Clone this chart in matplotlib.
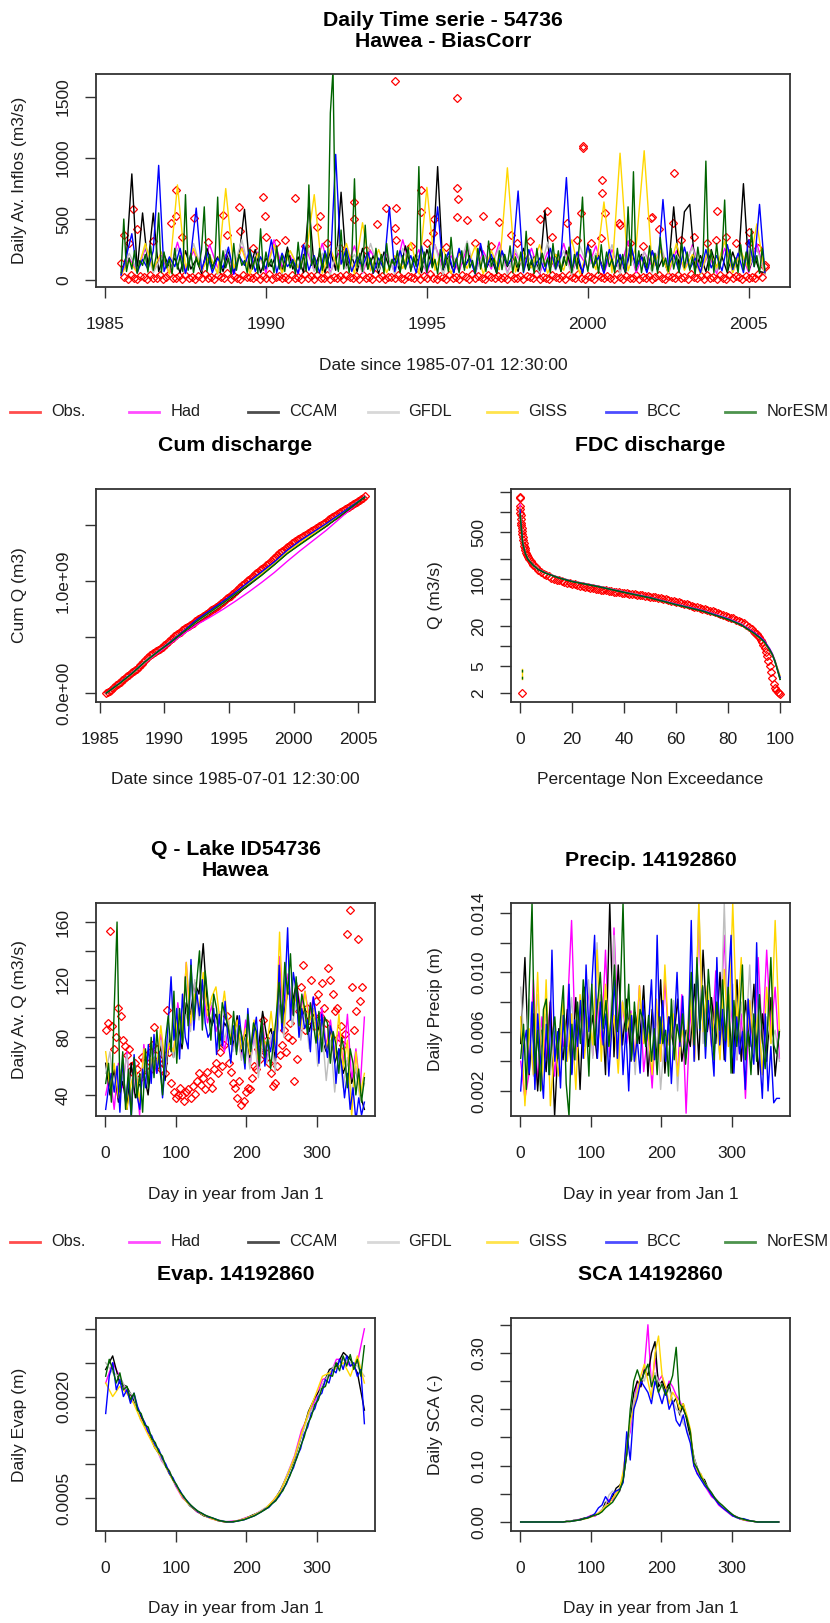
# -*- coding: utf-8 -*-

import numpy as np
import matplotlib
matplotlib.use("Agg")
import matplotlib.pyplot as plt
from matplotlib.lines import Line2D
from matplotlib.ticker import NullLocator

plt.rcParams['font.family'] = ['Liberation Sans', 'DejaVu Sans']

W, H = 830, 1623
BOX = '#333333'
TXT = '#1e1e1e'

names = ["Obs.", "Had", "CCAM", "GFDL", "GISS", "BCC", "NorESM"]
colors = ["red", "magenta", "black", "#BEBEBE", "gold", "blue", "darkgreen"]
legend_colors = ["#FF4D4D", "#FF4DFF", "#4D4D4D", "#D8D8D8", "#FFE34D", "#4D4DFF", "#4D934D"]

"""
Daily inflow series (m3/s) from 1985-07 to 2005-07
Had/GFDL/GISS quarterly, CCAM/BCC every 2 months, NorESM monthly
"""
ts_had = [45, 180, 70, 260, 90, 200, 55, 310, 80, 240,
          60, 290, 100, 210, 45, 270, 85, 230, 60, 330,
          110, 200, 50, 260, 75, 300, 60, 220, 95, 280,
          55, 240, 120, 210, 65, 330, 85, 250, 50, 290,
          100, 200, 70, 270, 55, 240, 90, 310, 60, 220,
          105, 260, 50, 230, 85, 300, 60, 210, 100, 280,
          55, 250, 80, 320, 60, 230, 110, 270, 50, 240,
          90, 290, 70, 210, 55, 260, 100, 230, 60, 300,
          45]
ts_gfdl = [55, 220, 80, 280, 60, 190, 95, 260, 50, 300,
           85, 210, 45, 250, 100, 330, 60, 200, 90, 270,
           50, 240, 110, 310, 70, 220, 45, 280, 95, 210,
           60, 300, 80, 240, 50, 260, 100, 200, 75, 290,
           45, 230, 95, 320, 60, 210, 110, 270, 50, 250,
           90, 200, 60, 310, 80, 240, 45, 280, 100, 220,
           70, 290, 50, 260, 95, 230, 60, 300, 80, 210,
           110, 270, 50, 240, 75, 320, 60, 220, 95, 260,
           50]
ts_giss = [40, 160, 60, 300, 85, 230, 50, 780, 100, 260,
           75, 200, 55, 750, 95, 260, 50, 220, 90, 290,
           60, 240, 100, 210, 700, 55, 260, 85, 300, 50,
           470, 75, 250, 60, 200, 95, 310, 50, 760, 80,
           260, 55, 220, 95, 280, 50, 240, 85, 920, 65,
           230, 100, 290, 55, 210, 80, 330, 50, 250, 85,
           640, 60, 1040, 75, 280, 1060, 95, 240, 55, 300,
           80, 210, 50, 260, 100, 320, 60, 240, 85, 460,
           50]
ts_ccam = [50, 200, 870, 80, 550, 120,
           549, 70, 210, 100, 180, 60,
           240, 90, 170, 55, 260, 110,
           190, 70, 230, 60, 200, 580,
           90, 250, 60, 180, 110, 220,
           70, 270, 90, 190, 60, 620,
           100, 210, 60, 240, 80, 720,
           110, 190, 70, 260, 90, 200,
           55, 230, 100, 180, 70, 280,
           90, 210, 60, 250, 110, 930,
           80, 190, 60, 240, 100, 200,
           70, 270, 90, 180, 55, 230,
           110, 200, 70, 260, 80, 190,
           60, 570, 100, 210, 70, 240,
           90, 180, 55, 290, 110, 200,
           70, 230, 90, 190, 60, 260,
           100, 210, 70, 240, 85, 180,
           60, 600, 110, 560, 620, 90,
           200, 70, 250, 100, 190, 60,
           230, 90, 790, 80, 210, 70,
           60]
ts_bcc = [40, 200, 380, 60, 170, 90,
          240, 940, 70, 190, 110, 260,
          55, 210, 590, 80, 230, 60,
          180, 100, 270, 50, 200, 120,
          250, 70, 190, 90, 330, 60,
          220, 110, 170, 55, 290, 80,
          200, 60, 240, 100, 1030, 130,
          260, 70, 190, 110, 230, 55,
          180, 90, 600, 70, 240, 100,
          200, 60, 280, 80, 190, 600,
          90, 230, 60, 260, 110, 180,
          50, 300, 90, 210, 70, 240,
          120, 190, 730, 60, 250, 100,
          180, 70, 260, 90, 200, 840,
          80, 230, 60, 280, 110, 190,
          55, 250, 90, 210, 70, 300,
          100, 190, 60, 240, 80, 660,
          120, 210, 70, 270, 90, 180,
          60, 250, 100, 200, 75, 290,
          85, 220, 60, 330, 110, 620,
          60]
ts_noresm = [60, 500, 70, 180, 90, 240, 55, 160, 120, 210, 65, 280,
             80, 190, 550, 60, 230, 100, 170, 50, 260, 90, 200, 70,
             700, 80, 220, 60, 190, 110, 250, 600, 70, 210, 90, 170,
             680, 60, 240, 100, 180, 50, 300, 80, 210, 120, 160, 60,
             250, 90, 190, 55, 420, 80, 230, 110, 170, 60, 280, 90,
             200, 70, 240, 100, 160, 50, 310, 90, 210, 70, 780, 120,
             190, 60, 260, 80, 220, 100, 1370, 1720, 180, 70, 410, 90,
             240, 60, 190, 830, 110, 220, 70, 450, 90, 180, 60, 260,
             100, 210, 55, 300, 80, 170, 120, 240, 60, 200, 90, 270,
             70, 190, 110, 930, 80, 230, 60, 280, 100, 170, 50, 250,
             90, 210, 70, 350, 110, 180, 60, 240, 80, 300, 100, 160,
             55, 260, 90, 200, 70, 320, 110, 180, 60, 240, 85, 210,
             120, 280, 60, 190, 100, 230, 70, 400, 90, 170, 55, 260,
             80, 220, 110, 180, 60, 300, 95, 240, 70, 190, 120, 270,
             60, 210, 90, 330, 680, 180, 70, 250, 100, 200, 55, 290,
             85, 230, 110, 170, 60, 260, 90, 210, 70, 600, 120, 888,
             80, 240, 60, 190, 100, 280, 75, 220, 55, 350, 110, 180,
             70, 260, 90, 200, 60, 310, 100, 230, 80, 190, 50, 270,
             110, 220, 975, 80, 240, 60, 300, 90, 200, 656, 70, 250,
             100, 180, 60, 290, 85, 230, 70, 420, 110, 200, 55, 260,
             80]

# observed: low flows every 0.1 yr + the bigger events
obs_low = [140, 25, 12, 40, 18, 8, 35, 22, 10, 45, 20, 15, 38, 9, 28, 50, 14, 20, 33, 11,
           42, 17, 25, 8, 36, 19, 48, 13, 27, 10, 40, 22, 15, 55, 12, 30, 18, 9, 44, 21,
           26, 14, 37, 8, 32, 16, 47, 11, 24, 35, 13, 29, 9, 41, 18, 23, 12, 50, 16, 31,
           10, 38, 20, 14, 45, 9, 27, 17, 34, 12, 43, 21, 15, 30, 8, 39, 19, 25, 11, 46,
           16, 33, 10, 28, 22, 13, 42, 18, 9, 36, 24, 14, 40, 11, 31, 17, 48, 20, 12, 35,
           21, 9, 44, 16, 29, 12, 38, 23, 10, 47, 15, 32, 19, 8, 41, 26, 13, 35, 18, 27,
           11, 45, 20, 14, 37, 9, 30, 24, 16, 52, 12, 28, 19, 10, 43, 22, 15, 34, 8, 39,
           25, 13, 46, 18, 11, 33, 21, 9, 40, 27, 14, 36, 17, 10, 49, 23, 12, 31, 20, 15,
           42, 9, 28, 19, 37, 12, 24, 45, 16, 10, 34, 22, 13, 39, 18, 29, 11, 47, 21, 14,
           32, 10, 41, 17, 26, 12, 38, 20, 9, 44, 15, 30, 23, 11, 36, 18, 27, 13, 48, 25,
           110]
obs_peak_dates = [1985.6, 1985.75, 1985.87, 1986.0, 1986.5, 1987.06, 1987.19, 1987.19, 1987.4,
                  1987.75, 1988.2, 1988.66, 1988.8, 1989.15, 1989.2, 1989.6, 1989.91, 1989.96,
                  1990.0, 1990.3, 1990.6, 1990.9, 1991.2, 1991.6, 1991.68, 1991.9, 1992.3,
                  1992.75, 1992.75, 1993.1, 1993.44, 1993.74, 1994.0, 1994.04, 1994.0, 1994.05,
                  1994.5, 1994.81, 1994.81, 1995.0, 1995.22, 1995.19, 1995.6, 1995.92, 1995.92,
                  1995.96, 1995.92, 1996.25, 1996.5, 1996.74, 1997.0, 1997.23, 1997.61, 1997.8,
                  1998.2, 1998.52, 1998.73, 1998.9, 1999.34, 1999.67, 1999.8, 1999.84, 1999.86,
                  2000.1, 2000.42, 2000.45, 2000.45, 2000.53, 2000.96, 2001.0, 2001.3, 2001.7,
                  2001.95, 2002.0, 2002.2, 2002.64, 2002.69, 2002.9, 2003.3, 2003.7, 2003.99,
                  2004.0, 2004.3, 2004.6, 2005.0, 2005.0, 2005.3, 2005.5]
obs_peak_vals = [370, 300, 580, 420, 320, 470, 739, 525, 350,
                 506, 310, 534, 370, 602, 405, 260, 684, 525,
                 350, 300, 330, 670, 280, 438, 525, 300, 260,
                 638, 500, 250, 457, 591, 1629, 591, 424, 330,
                 280, 739, 558, 300, 500, 383, 270, 1494, 752,
                 662, 514, 492, 300, 525, 280, 479, 369, 300,
                 320, 500, 569, 350, 470, 328, 547, 1095, 1080,
                 300, 342, 821, 717, 547, 465, 450, 300, 280,
                 506, 520, 420, 470, 876, 330, 350, 300, 328,
                 569, 350, 300, 391, 301, 260, 120]

"""
Cumulative discharge (1e9 m3): obs every 1.5 months, models every year
"""
cum_obs = [0.000, 0.008, 0.018, 0.030, 0.045, 0.058, 0.068, 0.079,
           0.090, 0.101, 0.112, 0.125, 0.140, 0.154, 0.165, 0.175,
           0.185, 0.195, 0.205, 0.216, 0.230, 0.246, 0.262, 0.279,
           0.295, 0.310, 0.325, 0.338, 0.350, 0.359, 0.368, 0.378,
           0.388, 0.396, 0.405, 0.414, 0.425, 0.439, 0.452, 0.465,
           0.478, 0.491, 0.505, 0.518, 0.530, 0.539, 0.548, 0.559,
           0.570, 0.581, 0.592, 0.601, 0.610, 0.619, 0.628, 0.639,
           0.650, 0.659, 0.668, 0.679, 0.690, 0.699, 0.708, 0.718,
           0.728, 0.740, 0.752, 0.761, 0.770, 0.780, 0.790, 0.801,
           0.812, 0.823, 0.835, 0.845, 0.855, 0.868, 0.882, 0.896,
           0.910, 0.924, 0.938, 0.949, 0.960, 0.972, 0.985, 0.998,
           1.010, 1.022, 1.035, 1.048, 1.060, 1.071, 1.082, 1.094,
           1.105, 1.116, 1.128, 1.139, 1.150, 1.164, 1.178, 1.192,
           1.205, 1.218, 1.232, 1.246, 1.260, 1.270, 1.280, 1.291,
           1.302, 1.313, 1.325, 1.335, 1.345, 1.355, 1.365, 1.375,
           1.384, 1.393, 1.402, 1.411, 1.420, 1.429, 1.438, 1.447,
           1.456, 1.464, 1.472, 1.481, 1.490, 1.500, 1.510, 1.520,
           1.530, 1.540, 1.550, 1.560, 1.570, 1.579, 1.588, 1.596,
           1.605, 1.613, 1.622, 1.631, 1.640, 1.649, 1.658, 1.668,
           1.678, 1.687, 1.696, 1.705, 1.715, 1.725, 1.735, 1.745,
           1.755]
cum_had = [0, 0.08, 0.17, 0.27, 0.36, 0.445, 0.53, 0.61, 0.675, 0.745, 0.82,
           0.90, 0.985, 1.075, 1.175, 1.27, 1.36, 1.45, 1.55, 1.65, 1.755]
cum_ccam = [0, 0.085, 0.175, 0.28, 0.37, 0.455, 0.545, 0.63, 0.71, 0.79, 0.875,
            0.96, 1.05, 1.145, 1.245, 1.33, 1.41, 1.49, 1.575, 1.66, 1.745]
cum_gfdl = [0, 0.087, 0.18, 0.285, 0.375, 0.462, 0.552, 0.635, 0.715, 0.795, 0.885,
            0.975, 1.065, 1.16, 1.26, 1.345, 1.425, 1.505, 1.585, 1.665, 1.75]
cum_giss = [0, 0.08, 0.172, 0.275, 0.368, 0.458, 0.55, 0.64, 0.72, 0.8, 0.885,
            0.97, 1.06, 1.155, 1.255, 1.34, 1.42, 1.5, 1.585, 1.67, 1.75]
cum_bcc = [0, 0.085, 0.178, 0.28, 0.372, 0.46, 0.555, 0.655, 0.735, 0.815, 0.9,
           0.99, 1.08, 1.17, 1.275, 1.36, 1.435, 1.51, 1.59, 1.67, 1.75]
cum_noresm = [0, 0.083, 0.175, 0.28, 0.37, 0.455, 0.548, 0.64, 0.72, 0.8, 0.885,
              0.965, 1.05, 1.145, 1.245, 1.325, 1.405, 1.485, 1.57, 1.66, 1.75]

"""
Flow duration curves
"""
fdc_head_pct = [0, 0, 0.05, 0.1, 0.15, 0.2, 0.3, 0.4, 0.5, 0.6, 0.7, 0.85,
                1.0, 1.2, 1.4, 1.6, 1.8, 2.0, 2.3, 2.6, 3.0, 3.5, 4.0, 4.5]
fdc_head_q = [1680, 1630, 1250, 1100, 980, 900, 780, 700, 640, 580, 530, 470,
              420, 380, 345, 315, 292, 272, 250, 232, 215, 198, 185, 174]
# 5 % to 90 % in steps of 1 %
fdc_mid_q = [165, 150, 138, 128, 121, 115, 110, 106, 102, 99,
             96, 93, 91, 89, 87, 85, 83.5, 82, 80.5, 79,
             77.5, 76, 74.5, 73, 72, 71, 70, 69, 68, 67,
             66.2, 65.5, 64.7, 64, 63.2, 62.5, 61.7, 61, 60.2, 59.5,
             58.7, 58, 57.2, 56.5, 55.7, 55, 54.2, 53.5, 52.7, 52,
             51, 50, 49, 48, 47, 46, 45, 44, 43, 42,
             41, 40, 39, 38, 37.2, 36.5, 35.7, 35, 34, 33,
             32.2, 31.5, 30.5, 29.5, 28.5, 27.5, 26.7, 26, 25, 24,
             23, 22, 20.8, 19.5, 18, 16.5]
fdc_tail_pct = [90.5, 91, 91.5, 92, 92.5, 93, 93.5, 94, 94.5, 95,
                95.5, 96, 96.5, 97, 97.5, 98, 98.5, 99, 99.5, 100, 0.8]
fdc_tail_q = [15.7, 15, 14.2, 13.5, 12.5, 11.5, 10.5, 9.5, 8.3, 7.2,
              6.0, 5.0, 4.1, 3.3, 2.7, 2.4, 2.2, 2.1, 2.0, 1.95, 2.0]
fdc_pct = [0, 0.2, 0.5, 1, 2, 3, 5, 7, 10, 15, 20, 30, 40, 50, 60, 70, 80, 85, 90, 92, 94, 96, 97, 98, 99, 100]
fdc_had = [1300, 820, 600, 350, 248, 200, 165, 141, 124, 106, 94, 79, 65, 53.5, 42.5, 34.5, 26, 21.5, 16, 14, 12, 9.2, 7.8, 6.2, 4.6, 3.4]
fdc_ccam = [1000, 760, 580, 345, 245, 198, 163, 140, 123, 105, 93, 78, 64, 53, 42, 34, 25.5, 21, 15.5, 13.5, 11.5, 8.7, 7.4, 5.9, 4.4, 3.2]
fdc_gfdl = [1050, 780, 590, 350, 246, 200, 164, 140, 123, 105, 93, 78, 64, 53, 42, 34, 25.5, 21, 15.5, 13.5, 11.5, 8.8, 7.5, 6.0, 4.5, 3.3]
fdc_giss = [1150, 800, 610, 355, 250, 202, 165, 141, 124, 106, 94, 78.5, 64.5, 53, 42, 34, 25.5, 21, 15.5, 13.6, 11.6, 8.9, 7.6, 6.1, 4.7, 3.6]
fdc_bcc = [1100, 770, 590, 348, 244, 199, 163, 140, 123, 105, 93, 78, 64, 53, 42, 34, 25.5, 21, 15.8, 13.8, 11.8, 9.0, 7.6, 6.0, 4.5, 3.4]
fdc_noresm = [950, 740, 570, 340, 242, 197, 162, 139, 122, 104, 92, 77.5, 63.5, 52.5, 41.5, 33.5, 25, 20.8, 15.5, 13.5, 11.5, 8.8, 7.5, 6.0, 4.4, 3.2]
fdc_stub_pct = [0.65, 0.65]
fdc_stub_q = [3.2, 4.6]

"""
Day-of-year Q (m3/s): obs every 3 days, models every 6 days (BCC, NorESM every 4)
"""
q_obs = [85, 90, 154, 88, 72, 80, 100, 95, 78, 74,
         68, 72, 60, 55, 62, 58, 52, 66, 64, 60,
         56, 70, 75, 87, 72, 65, 58, 62, 55, 99,
         70, 48, 42, 38, 40, 45, 40, 36, 42, 44,
         38, 46, 41, 50, 55, 47, 52, 44, 56, 50,
         45, 58, 62, 55, 70, 60, 75, 95, 62, 56,
         48, 45, 38, 50, 33, 36, 42, 45, 44, 52,
         60, 58, 72, 65, 92, 70, 78, 62, 55, 46,
         48, 60, 68, 75, 85, 70, 80, 90, 78, 50,
         65, 98, 115, 130, 85, 100, 92, 120, 88, 105,
         110, 95, 118, 100, 90, 128, 120, 110, 98, 100,
         80, 88, 75, 82, 152, 168, 115, 85, 98, 148,
         105, 115]
q_had = [40, 55, 30, 62, 45, 70, 32, 58, 26, 75,
         48, 70, 55, 82, 60, 74, 68, 104, 80, 132,
         88, 118, 96, 112, 90, 102, 84, 96, 70, 88,
         72, 84, 66, 92, 60, 82, 58, 90, 64, 80,
         62, 136, 90, 124, 96, 116, 100, 112, 94, 108,
         86, 100, 74, 92, 68, 84, 62, 96, 50, 72,
         44, 94]
q_ccam = [62, 40, 58, 35, 50, 30, 62, 38, 48, 55,
          40, 70, 58, 75, 50, 80, 66, 92, 72, 104,
          96, 118, 110, 145, 100, 88, 96, 78, 90, 85,
          74, 95, 70, 82, 66, 88, 72, 98, 80, 86,
          64, 105, 96, 112, 104, 118, 92, 100, 84, 96,
          88, 78, 70, 86, 62, 72, 55, 64, 48, 58,
          40, 30]
q_gfdl = [55, 70, 42, 60, 50, 68, 40, 56, 48, 62,
          52, 70, 60, 78, 54, 84, 66, 100, 76, 96,
          84, 120, 92, 116, 100, 104, 90, 98, 78, 92,
          70, 86, 64, 80, 58, 84, 52, 76, 62, 82,
          56, 110, 80, 120, 88, 106, 78, 98, 72, 94,
          60, 86, 50, 78, 42, 70, 45, 66, 40, 60,
          36, 48]
q_giss = [70, 45, 62, 38, 58, 30, 48, 60, 35, 72,
          50, 66, 58, 88, 62, 76, 70, 96, 82, 132,
          90, 110, 100, 125, 95, 108, 115, 90, 112, 84,
          78, 92, 72, 86, 68, 92, 64, 80, 74, 98,
          70, 153, 88, 118, 100, 108, 86, 112, 90, 100,
          78, 94, 72, 88, 66, 96, 58, 78, 25, 70,
          40, 55]
q_bcc = [30, 45, 55, 42, 60, 28, 65, 35, 52, 24, 68, 40, 30, 58, 45,
         75, 48, 82, 55, 70, 38, 62, 90, 122, 78, 100, 65, 110, 80, 72,
         134, 85, 112, 95, 120, 90, 80, 84, 100, 68, 96, 74, 105, 80, 62,
         88, 70, 95, 76, 58, 100, 72, 82, 94, 66, 86, 60, 78, 70, 84,
         66, 130, 84, 110, 156, 92, 125, 112, 80, 100, 86, 92, 70, 108, 95,
         62, 96, 80, 66, 88, 80, 48, 72, 60, 38, 55, 30, 45, 22, 38,
         26, 35]
q_noresm = [48, 62, 35, 100, 160, 42, 70, 30, 58, 25, 66, 38, 55, 28, 72,
            45, 80, 52, 85, 60, 40, 78, 95, 70, 112, 62, 100, 75, 122, 88,
            130, 92, 118, 140, 85, 126, 105, 78, 110, 100, 72, 104, 95, 88, 75,
            98, 68, 88, 80, 62, 96, 70, 90, 84, 60, 92, 66, 80, 58, 76,
            95, 118, 90, 132, 110, 138, 95, 122, 88, 110, 100, 82, 104, 90, 76,
            98, 70, 94, 90, 62, 84, 75, 55, 80, 70, 45, 72, 62, 40, 58,
            35, 52]

"""
Precip (mm/day), every 6 days (BCC, NorESM every 4)
"""
p_had = [4.0, 1.5, 3.2, 9.5, 2.4, 7.0, 4.2, 8.1, 3.0, 6.2,
         5.0, 7.3, 13.5, 4.1, 7.2, 5.3, 9.0, 4.4, 8.2, 5.1,
         11.5, 4.3, 13.0, 6.2, 8.0, 5.2, 7.4, 4.1, 9.1, 3.3,
         6.0, 2.2, 7.3, 4.0, 9.5, 5.1, 6.3, 3.1, 8.5, 0.5,
         7.5, 4.2, 13.5, 6.1, 8.3, 5.0, 10.1, 6.2, 12.5, 5.3,
         8.0, 4.1, 7.2, 1.5, 8.1, 4.3, 11.0, 5.2, 11.5, 6.0,
         9.0, 4.2]
p_ccam = [5.2, 11.0, 3.1, 7.2, 2.0, 6.1, 3.3, 8.0, 0.3, 6.2,
          4.1, 7.5, 3.2, 8.3, 2.1, 9.0, 5.0, 7.1, 4.2, 8.5,
          3.1, 14.7, 4.3, 10.5, 5.1, 8.2, 4.0, 7.3, 5.2, 9.1,
          3.0, 7.5, 4.1, 9.5, 3.2, 7.0, 5.1, 8.2, 4.0, 6.1,
          5.0, 9.2, 4.1, 11.5, 6.0, 8.3, 5.2, 10.0, 4.1, 8.5,
          3.2, 9.5, 4.0, 8.1, 5.0, 9.2, 3.1, 7.2, 4.0, 8.3,
          3.0, 6.1]
p_gfdl = [9.0, 4.1, 8.2, 3.0, 8.5, 5.1, 7.2, 3.1, 6.0, 4.2,
          7.1, 5.0, 8.3, 4.1, 6.2, 5.0, 9.5, 4.2, 12.0, 6.1,
          9.0, 5.2, 12.5, 4.0, 8.1, 6.0, 7.2, 3.1, 8.0, 5.2,
          6.1, 4.0, 7.3, 2.1, 6.0, 4.2, 8.1, 2.0, 7.2, 5.0,
          9.1, 4.0, 14.7, 5.2, 8.0, 6.1, 7.0, 4.2, 14.7, 5.0,
          9.2, 4.1, 8.0, 5.2, 10.5, 4.0, 8.2, 3.1, 7.0, 5.2,
          6.1, 4.0]
p_giss = [7.0, 1.0, 6.2, 3.1, 10.0, 2.1, 9.5, 1.0, 5.2, 3.0,
          8.1, 4.0, 7.2, 2.1, 8.5, 4.2, 7.0, 5.1, 11.5, 4.0,
          9.2, 5.0, 7.1, 3.2, 8.0, 6.1, 7.2, 4.0, 9.1, 5.2,
          6.0, 3.1, 8.2, 4.0, 10.5, 5.1, 7.2, 3.0, 6.1, 5.0,
          8.2, 4.1, 14.7, 6.0, 9.1, 5.2, 8.0, 4.1, 10.2, 5.0,
          14.7, 6.1, 11.0, 4.2, 8.1, 5.0, 7.2, 3.1, 9.0, 5.2,
          13.5, 6.0]
p_bcc = [2.0, 5.0, 6.1, 3.2, 8.0, 2.1, 7.2, 4.0, 1.5, 6.5, 3.1, 11.5, 4.0, 6.0, 2.2,
         7.1, 4.0, 9.2, 3.1, 6.8, 5.0, 8.1, 4.2, 10.5, 6.0, 9.1, 12.5, 4.2, 8.0, 5.1,
         7.2, 3.0, 6.1, 9.5, 4.2, 8.0, 3.1, 6.2, 2.0, 7.1, 4.0, 5.5, 3.2, 8.1, 5.0,
         6.5, 9.5, 4.1, 12.5, 5.2, 8.1, 4.0, 7.0, 2.5, 6.2, 10.0, 5.0, 8.4, 4.2, 6.0,
         13.5, 4.0, 10.5, 6.1, 9.0, 4.2, 8.1, 5.5, 3.0, 11.0, 5.1, 7.5, 4.0, 9.1, 12.5,
         3.2, 7.0, 4.5, 6.0, 2.1, 8.2, 5.2, 3.8, 12.0, 4.5, 1.5, 7.2, 2.0, 5.0, 1.2,
         1.5, 1.5]
p_noresm = [4.2, 6.5, 2.1, 9.0, 14.7, 3.2, 6.1, 2.0, 7.5, 8.2, 3.1, 5.5, 7.0, 4.2, 6.8,
            9.1, 2.5, 0.3, 6.5, 4.1, 8.0, 5.2, 9.5, 7.1, 3.0, 9.2, 5.1, 7.8, 10.0, 6.2,
            8.1, 5.0, 7.4, 10.5, 6.0, 8.3, 14.7, 6.0, 9.2, 4.1, 8.0, 5.2, 7.5, 6.8, 5.0,
            7.1, 4.0, 6.2, 3.1, 7.0, 5.2, 6.1, 3.0, 8.2, 4.1, 6.5, 5.3, 7.2, 3.8, 6.0,
            10.0, 5.1, 11.0, 6.2, 9.1, 5.0, 10.2, 7.5, 4.1, 8.0, 6.1, 9.5, 5.4, 9.0, 3.2,
            8.1, 5.0, 7.2, 10.5, 4.1, 6.0, 3.1, 7.2, 4.0, 8.5, 5.5, 3.5, 7.0, 11.0, 5.1,
            4.5, 6.0]

"""
Evap (mm/day), about every 10 days (BCC, NorESM every 5)
"""
e_had = [2.2, 2.5, 2.3, 2.05, 2.0, 1.7, 1.48, 1.3, 1.05, 0.92, 0.68, 0.5, 0.41, 0.3, 0.25, 0.2, 0.17, 0.15, 0.16,
         0.17, 0.21, 0.24, 0.3, 0.36, 0.47, 0.6, 0.86, 1.12, 1.5, 1.72, 1.95, 2.25, 2.3, 2.55, 2.55, 2.45, 2.5, 3.0]
e_ccam = [2.4, 2.6, 2.2, 2.15, 1.95, 1.72, 1.52, 1.25, 1.1, 0.88, 0.7, 0.53, 0.39, 0.31, 0.24, 0.21, 0.17, 0.15, 0.15,
          0.17, 0.2, 0.25, 0.29, 0.35, 0.45, 0.62, 0.84, 1.08, 1.42, 1.78, 2.0, 2.15, 2.4, 2.45, 2.65, 2.55, 2.35, 1.8]
e_gfdl = [2.5, 2.35, 2.3, 2.1, 2.0, 1.65, 1.52, 1.3, 1.06, 0.9, 0.7, 0.52, 0.4, 0.32, 0.25, 0.21, 0.18, 0.16, 0.15,
          0.17, 0.2, 0.24, 0.3, 0.37, 0.46, 0.61, 0.86, 1.1, 1.42, 1.72, 1.9, 2.18, 2.35, 2.5, 2.55, 2.5, 2.45, 2.3]
e_giss = [2.2, 2.0, 2.15, 2.05, 1.9, 1.66, 1.45, 1.25, 1.1, 0.88, 0.7, 0.51, 0.4, 0.31, 0.25, 0.2, 0.17, 0.15, 0.15,
          0.17, 0.2, 0.24, 0.29, 0.36, 0.47, 0.6, 0.84, 1.1, 1.45, 1.76, 2.02, 2.3, 2.35, 2.42, 2.5, 2.3, 2.6, 2.2]
e_bcc = [1.75, 2.3, 2.5, 2.1, 2.25, 2.0, 2.1, 1.9, 2.05, 1.85, 1.72, 1.62, 1.48, 1.42, 1.28, 1.22, 1.08, 1.0, 0.86, 0.8,
         0.68, 0.61, 0.51, 0.46, 0.39, 0.35, 0.3, 0.28, 0.25, 0.22, 0.21, 0.19, 0.17, 0.16, 0.15, 0.15, 0.15, 0.16, 0.17, 0.18,
         0.2, 0.22, 0.24, 0.27, 0.3, 0.34, 0.36, 0.42, 0.47, 0.53, 0.63, 0.71, 0.85, 0.95, 1.12, 1.23, 1.45, 1.55, 1.75, 1.82,
         2.0, 2.05, 2.25, 2.2, 2.4, 2.35, 2.55, 2.4, 2.6, 2.45, 2.5, 2.3, 2.4, 1.6]
e_noresm = [2.3, 2.55, 2.4, 2.2, 2.35, 2.1, 2.15, 1.95, 2.05, 1.8, 1.75, 1.58, 1.55, 1.38, 1.32, 1.18, 1.12, 0.96, 0.9, 0.77,
            0.7, 0.59, 0.53, 0.45, 0.4, 0.35, 0.31, 0.28, 0.25, 0.23, 0.21, 0.19, 0.17, 0.16, 0.15, 0.15, 0.15, 0.16, 0.17, 0.18,
            0.2, 0.22, 0.24, 0.27, 0.3, 0.33, 0.37, 0.42, 0.46, 0.55, 0.61, 0.73, 0.83, 0.98, 1.1, 1.27, 1.4, 1.6, 1.7, 1.88,
            1.95, 2.12, 2.15, 2.32, 2.3, 2.5, 2.38, 2.6, 2.45, 2.62, 2.4, 2.55, 2.3, 2.75]

"""
Snow covered area (-), every 5 days
"""
s_had = [0, 0, 0, 0, 0, 0, 0, 0, 0, 0, 0, 0, 0,
         .001, .002, .002, .004, .005, .006, .009, .012, .010, .016, .022, .028, .040, .038, .052, .055, .085, .140,
         .160, .210, .250, .240, .275, .350, .240, .290, .250, .260, .230, .250, .240, .225, .215, .200, .185, .160,
         .100, .085, .085, .065, .055, .045, .040, .030, .025, .020, .015, .010, .010, .005, .004, .002, .002, .001,
         0, 0, 0, 0, 0, 0, 0]
s_ccam = [0, 0, 0, 0, 0, 0, 0, 0, 0, 0, 0, 0, 0,
          .001, .001, .003, .003, .005, .007, .008, .011, .013, .014, .020, .035, .032, .045, .060, .065, .075, .120,
          .180, .230, .250, .240, .270, .260, .300, .320, .240, .250, .235, .245, .210, .220, .190, .210, .180, .150,
          .115, .095, .080, .075, .060, .050, .042, .035, .028, .022, .018, .012, .009, .006, .004, .003, .002, .001,
          0, 0, 0, 0, 0, 0, 0]
s_gfdl = [0, 0, 0, 0, 0, 0, 0, 0, 0, 0, 0, 0, 0,
          .001, .002, .002, .003, .004, .006, .008, .010, .012, .015, .022, .030, .048, .055, .050, .060, .080, .125,
          .170, .215, .235, .255, .250, .280, .250, .265, .250, .240, .225, .235, .215, .200, .195, .175, .165, .145,
          .115, .095, .085, .070, .062, .052, .040, .036, .028, .022, .017, .012, .009, .006, .005, .003, .002, .001,
          0, 0, 0, 0, 0, 0, 0]
s_giss = [0, 0, 0, 0, 0, 0, 0, 0, 0, 0, 0, 0, 0,
          .001, .001, .002, .003, .004, .005, .007, .009, .012, .016, .020, .028, .032, .042, .050, .060, .090, .140,
          .180, .200, .230, .260, .280, .250, .220, .300, .330, .260, .240, .210, .230, .220, .200, .210, .190, .165,
          .105, .090, .085, .070, .058, .050, .040, .034, .026, .022, .016, .012, .008, .006, .004, .003, .002, .001,
          0, 0, 0, 0, 0, 0, 0]
s_bcc = [0, 0, 0, 0, 0, 0, 0, 0, 0, 0, 0, 0, 0,
         .001, .001, .002, .003, .004, .006, .008, .010, .015, .025, .030, .045, .035, .050, .055, .058, .070, .160,
         .110, .200, .220, .250, .240, .230, .210, .250, .230, .210, .235, .200, .215, .180, .170, .190, .160, .140,
         .100, .085, .075, .065, .058, .048, .040, .032, .026, .021, .016, .011, .008, .006, .006, .004, .002, .001,
         0, 0, 0, 0, 0, 0, 0]
s_noresm = [0, 0, 0, 0, 0, 0, 0, 0, 0, 0, 0, 0, 0,
            .001, .001, .002, .003, .004, .006, .007, .010, .012, .014, .018, .025, .030, .035, .045, .055, .075, .120,
            .200, .250, .270, .250, .265, .280, .240, .260, .230, .245, .225, .240, .260, .310, .210, .200, .185, .160,
            .105, .095, .080, .070, .060, .052, .042, .035, .030, .024, .018, .013, .009, .007, .005, .003, .002, .001,
            0, 0, 0, 0, 0, 0, 0]


def add_axes(fig, l, t, r, b):
    return fig.add_axes([l / W, 1 - b / H, (r - l) / W, (b - t) / H])


def style(ax, title, xlabel, ylabel, xticks, xlabels, yticks, ylabels):
    pos = ax.get_position()
    w_px, h_px = pos.width * W, pos.height * H
    for s in ax.spines.values():
        s.set_color(BOX)
        s.set_linewidth(1.3)
    ax.set_xticks(xticks, xlabels)
    ax.set_yticks(yticks, ylabels)
    ax.xaxis.set_minor_locator(NullLocator())
    ax.yaxis.set_minor_locator(NullLocator())
    ax.tick_params(direction='out', length=8, width=1.0, color=BOX,
                   labelsize=12.5, labelcolor=TXT)
    ax.tick_params(axis='x', pad=13.5)
    ax.tick_params(axis='y', labelrotation=90, pad=10)
    plt.setp(ax.get_yticklabels(), va='center')
    ax.set_xlabel(xlabel, fontsize=12.5, color=TXT, va='center')
    ax.set_ylabel(ylabel, fontsize=12.5, color=TXT, va='center')
    ax.xaxis.set_label_coords(0.5, -78 / h_px)
    ax.yaxis.set_label_coords(-76 / w_px, 0.5)
    ax.text(0.5, 1 + 43 / h_px, title, transform=ax.transAxes, ha='center', va='center',
            fontsize=15.3, fontweight='bold', color='black', linespacing=1.17)


def obs_points(ax, x, y):
    ax.plot(x, y, linestyle='none', marker='D', ms=4.0, mfc='none', mec='red', mew=0.9)


def model_lines(ax, x0, x1, series):
    # every series gets its own sampling between x0 and x1
    for vals, c in zip(series, colors[1:]):
        ax.plot(np.linspace(x0, x1, len(vals)), vals, color=c, lw=1.0)


def legend_row(fig, y):
    for i, (name, c) in enumerate(zip(names, legend_colors)):
        x0 = 10 + i * 119.2
        fig.add_artist(Line2D([x0 / W, (x0 + 30) / W], [1 - y / H, 1 - y / H], color=c, lw=2.0))
        fig.text((x0 + 41) / W, 1 - y / H, name, ha='left', va='center', fontsize=11.8, color=TXT)


fig = plt.figure(figsize=(W / 100, H / 100), dpi=100)

# daily series
ax = add_axes(fig, 96, 74, 790, 287)
obs_points(ax, np.linspace(1985.5, 2005.5, len(obs_low)), obs_low)
obs_points(ax, obs_peak_dates, obs_peak_vals)
model_lines(ax, 1985.5, 2005.5, [ts_had, ts_ccam, ts_gfdl, ts_giss, ts_bcc, ts_noresm])
ax.set_xlim(1984.72, 2006.28)
ax.set_ylim(-57, 1689)
style(ax, "Daily Time serie - 54736\nHawea - BiasCorr", "Date since 1985-07-01 12:30:00",
      "Daily Av. Inflos (m3/s)", [1985, 1990, 1995, 2000, 2005],
      ["1985", "1990", "1995", "2000", "2005"], [0, 500, 1000, 1500], ["0", "500", "1000", "1500"])

legend_row(fig, 412)

# cumulative discharge
ax = add_axes(fig, 96, 489, 375, 702)
obs_points(ax, np.linspace(1985.5, 2005.5, len(cum_obs)), np.array(cum_obs) * 1e9)
model_lines(ax, 1985.5, 2005.5,
            [np.array(v) * 1e9 for v in [cum_had, cum_ccam, cum_gfdl, cum_giss, cum_bcc, cum_noresm]])
ax.set_xlim(1984.7, 2006.3)
ax.set_ylim(-0.08e9, 1.821e9)
style(ax, "Cum discharge", "Date since 1985-07-01 12:30:00", "Cum Q (m3)",
      [1985, 1990, 1995, 2000, 2005], ["1985", "1990", "1995", "2000", "2005"],
      [0, 0.5e9, 1.0e9, 1.5e9], ["0.0e+00", "", "1.0e+09", ""])

# flow duration curve
ax = add_axes(fig, 511, 489, 790, 702)
ax.set_yscale('log')
obs_points(ax, fdc_head_pct + list(range(5, 91)) + fdc_tail_pct,
           fdc_head_q + fdc_mid_q + fdc_tail_q)
for vals, c in zip([fdc_had, fdc_ccam, fdc_gfdl, fdc_giss, fdc_bcc, fdc_noresm], colors[1:]):
    ax.plot(fdc_pct, vals, color=c, lw=1.0)
ax.plot(fdc_stub_pct, fdc_stub_q, color='gold', lw=1.0)
ax.plot(fdc_stub_pct, fdc_stub_q, color='darkgreen', lw=1.0, dashes=(2, 3))
ax.set_xlim(-3.5, 103.8)
ax.set_ylim(1.47, 2220)
style(ax, "FDC discharge", "Percentage Non Exceedance", "Q (m3/s)",
      [0, 20, 40, 60, 80, 100], ["0", "20", "40", "60", "80", "100"],
      [2, 5, 10, 20, 50, 100, 200, 500, 1000, 2000], ["2", "5", "", "20", "", "100", "", "500", "", ""])

day_ticks = [0, 100, 200, 300]
day_labels = ["0", "100", "200", "300"]

# lake inflow by day of year
ax = add_axes(fig, 96, 903, 375, 1116)
obs_points(ax, np.linspace(1, 364, len(q_obs)), q_obs)
model_lines(ax, 1, 367, [q_had, q_ccam, q_gfdl, q_giss, q_bcc, q_noresm])
ax.set_xlim(-12.7, 382)
ax.set_ylim(25.4, 173.2)
style(ax, "Q - Lake ID54736\nHawea", "Day in year from Jan 1", "Daily Av. Q (m3/s)",
      day_ticks, day_labels, [40, 60, 80, 100, 120, 140, 160], ["40", "", "80", "", "120", "", "160"])

# precipitation
ax = add_axes(fig, 511, 903, 790, 1116)
model_lines(ax, 1, 367, [np.array(v) / 1000 for v in [p_had, p_ccam, p_gfdl, p_giss, p_bcc, p_noresm]])
ax.set_xlim(-12.7, 382)
ax.set_ylim(0.00031, 0.01468)
style(ax, "Precip. 14192860", "Day in year from Jan 1", "Daily Precip (m)",
      day_ticks, day_labels, [0.002, 0.004, 0.006, 0.008, 0.010, 0.012, 0.014],
      ["0.002", "", "0.006", "", "0.010", "", "0.014"])

legend_row(fig, 1242)

# evaporation
ax = add_axes(fig, 96, 1318, 375, 1531)
model_lines(ax, 1, 367, [np.array(v) / 1000 for v in [e_had, e_ccam, e_gfdl, e_giss, e_bcc, e_noresm]])
ax.set_xlim(-12.7, 382)
ax.set_ylim(0.0000147, 0.00316)
style(ax, "Evap. 14192860", "Day in year from Jan 1", "Daily Evap (m)",
      day_ticks, day_labels, [0.0005, 0.0010, 0.0015, 0.0020, 0.0025, 0.0030],
      ["0.0005", "", "", "0.0020", "", ""])

# snow cover
ax = add_axes(fig, 511, 1318, 790, 1531)
model_lines(ax, 1, 366, [s_had, s_ccam, s_gfdl, s_giss, s_bcc, s_noresm])
ax.set_xlim(-12.7, 382)
ax.set_ylim(-0.016, 0.362)
style(ax, "SCA 14192860", "Day in year from Jan 1", "Daily SCA (-)",
      day_ticks, day_labels, [0, 0.05, 0.10, 0.15, 0.20, 0.25, 0.30, 0.35],
      ["0.00", "", "0.10", "", "0.20", "", "0.30", ""])

plt.savefig("out.png", dpi=100)
